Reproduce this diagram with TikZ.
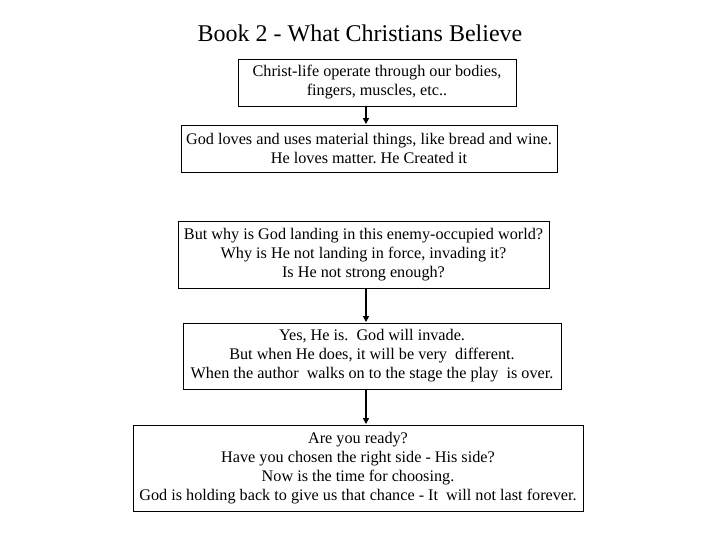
\documentclass[tikz,border=0pt]{standalone}
\usepackage{fontspec}
\setmainfont{Liberation Serif}
\usepackage{tikz}
\usetikzlibrary{arrows.meta, positioning, calc}
\frenchspacing

\begin{document}
\begin{tikzpicture}[
    x=1pt, y=-1pt,
    belief/.style={rectangle, draw=black, line width=0.9pt, fill=white, align=center, inner sep=0pt, font=\fontsize{16.2}{19}\selectfont},
    flow/.style={line width=1.6pt, -{Triangle[length=6pt, width=6pt]}, shorten >=0.5pt},
]
    \useasboundingbox (0,0) rectangle (720,540);
    \node[font=\fontsize{24}{26}\selectfont] (title) at (360,33) {Book 2 - What Christians Believe};

    \node[belief, minimum width=278pt, minimum height=47pt] (b1) at (377,82.5) {Christ-life operate through our bodies,\\ fingers, muscles, etc..};
    \node[belief, minimum width=376pt, minimum height=47pt] (b2) at (369,148.5) {God loves and uses material things, like bread and wine.\\ He loves matter. He Created it};
    \node[belief, minimum width=371pt, minimum height=67pt] (b3) at (363.5,254.5) {But why is God landing in this enemy-occupied world?\\ Why is He not landing in force, invading it?\\ Is He not strong enough?};
    \node[belief, minimum width=378pt, minimum height=66pt] (b4) at (372,356) {Yes, He is.\ \ God will invade.\\ But when He does, it will be very\ \ different.\\ When the author\ \ walks on to the stage the play\ \ is over.};
    \node[belief, minimum width=450pt, minimum height=86pt] (b5) at (358,468) {Are you ready?\\ Have you chosen the right side - His side?\\ Now is the time for choosing.\\ God is holding back to give us that chance - It\ \ will not last forever.};

    % arrows all run down one line
    \coordinate (spine) at (366,0);
    \draw[flow] (b1.south -| spine) -- (b2.north -| spine);
    \draw[flow] (b3.south -| spine) -- (b4.north -| spine);
    \draw[flow] (b4.south -| spine) -- (b5.north -| spine);
\end{tikzpicture}
\end{document}
